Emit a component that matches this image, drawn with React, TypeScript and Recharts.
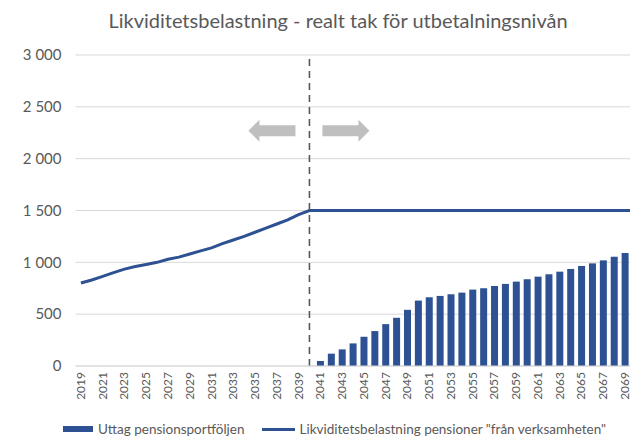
import React from "react";
import {
  ComposedChart,
  Bar,
  Line,
  XAxis,
  YAxis,
  CartesianGrid,
  ReferenceLine,
  ReferenceDot,
} from "recharts";

const years: string[] = [
  "2019", "2020", "2021", "2022", "2023", "2024", "2025", "2026", "2027", "2028",
  "2029", "2030", "2031", "2032", "2033", "2034", "2035", "2036", "2037", "2038",
  "2039", "2040", "2041", "2042", "2043", "2044", "2045", "2046", "2047", "2048",
  "2049", "2050", "2051", "2052", "2053", "2054", "2055", "2056", "2057", "2058",
  "2059", "2060", "2061", "2062", "2063", "2064", "2065", "2066", "2067", "2068",
  "2069", "2070",
];

// Likviditetsbelastning pensioner "från verksamheten"
const likviditet: number[] = [
  800, 830, 865, 900, 935, 960, 980, 1000, 1030, 1050,
  1080, 1110, 1140, 1180, 1215, 1250, 1290, 1330, 1370, 1410,
  1460, 1500, 1500, 1500, 1500, 1500, 1500, 1500, 1500, 1500,
  1500, 1500, 1500, 1500, 1500, 1500, 1500, 1500, 1500, 1500,
  1500, 1500, 1500, 1500, 1500, 1500, 1500, 1500, 1500, 1500,
  1500, 1500,
];

// Uttag pensionsportföljen
const uttag: (number | null)[] = [
  null, null, null, null, null, null, null, null, null, null,
  null, null, null, null, null, null, null, null, null, null,
  null, null, 48, 119, 160, 218, 282, 337, 404, 465,
  542, 631, 663, 676, 692, 708, 737, 750, 772, 792,
  814, 837, 862, 885, 910, 936, 965, 990, 1019, 1054,
  1090, null,
];

const yTicks: number[] = [0, 500, 1000, 1500, 2000, 2500, 3000];

const title = "Likviditetsbelastning - realt tak för utbetalningsnivån";
const barName = "Uttag pensionsportföljen";
const lineName = 'Likviditetsbelastning pensioner "från verksamheten"';
const splitYear = "2040";
const arrowLevel = 2270;

const data = years.map((y, i) => ({ year: y, uttag: uttag[i], likv: likviditet[i] }));

const BLUE = "#2d5193";
const TEXT = "#595959";
const GRID = "#d9d9d9";
const FONT = "Lato, 'Open Sans', sans-serif";

const fmt = (v: number) => (v >= 1000 ? `${Math.floor(v / 1000)} ${String(v % 1000).padStart(3, "0")}` : String(v));

const XTick = (props: any) => {
  const { x, y, payload } = props;
  return (
    <g transform={`translate(${x},${y})`}>
      <text
        x={0}
        y={0}
        dy={4}
        textAnchor="end"
        transform="rotate(-90)"
        fill={TEXT}
        fontSize={12}
        fontFamily={FONT}
      >
        {payload.value}
      </text>
    </g>
  );
};

const Arrows = (props: any) => {
  const { cx, cy } = props;
  if (cx == null || cy == null) return null;
  const sh = 5.5; // half shaft height
  const hh = 11; // half head height
  const hl = 11; // head length
  const left = `M ${cx - 14} ${cy - sh} L ${cx - 61 + hl} ${cy - sh} L ${cx - 61 + hl} ${cy - hh} L ${cx - 61} ${cy} L ${cx - 61 + hl} ${cy + hh} L ${cx - 61 + hl} ${cy + sh} L ${cx - 14} ${cy + sh} Z`;
  const right = `M ${cx + 13} ${cy - sh} L ${cx + 60 - hl} ${cy - sh} L ${cx + 60 - hl} ${cy - hh} L ${cx + 60} ${cy} L ${cx + 60 - hl} ${cy + hh} L ${cx + 60 - hl} ${cy + sh} L ${cx + 13} ${cy + sh} Z`;
  return (
    <g>
      <path d={left} fill="#bfbfbf" />
      <path d={right} fill="#bfbfbf" />
    </g>
  );
};

export default function App() {
  return (
    <div
      style={{
        position: "absolute",
        left: 0,
        top: 0,
        width: 630,
        height: 436,
        overflow: "hidden",
        background: "#ffffff",
        fontFamily: FONT,
      }}
    >
      <div
        style={{
          position: "absolute",
          left: 0,
          top: 8,
          width: 676,
          textAlign: "center",
          fontSize: 20,
          lineHeight: "24px",
          color: TEXT,
          fontFamily: FONT,
          whiteSpace: "nowrap",
        }}
      >
        {title}
      </div>
      <ComposedChart
        width={650}
        height={436}
        data={data}
        margin={{ top: 55, right: 8.7, left: 0, bottom: 20 }}
        barCategoryGap="19%"
      >
        <CartesianGrid vertical={false} stroke={GRID} strokeWidth={1} />
        <XAxis
          dataKey="year"
          interval={1}
          height={50}
          tickLine={false}
          tickSize={0}
          tickMargin={6}
          axisLine={{ stroke: GRID }}
          tick={<XTick />}
        />
        <YAxis
          width={75.5}
          domain={[0, 3000]}
          ticks={yTicks}
          tickFormatter={fmt}
          axisLine={false}
          tickLine={false}
          tickSize={0}
          tickMargin={14}
          tick={{ fill: TEXT, fontSize: 15, fontFamily: FONT }}
        />
        <Bar dataKey="uttag" name={barName} fill={BLUE} isAnimationActive={false} />
        <Line
          dataKey="likv"
          name={lineName}
          type="linear"
          stroke={BLUE}
          strokeWidth={3}
          dot={false}
          activeDot={false}
          isAnimationActive={false}
        />
        <ReferenceLine x={splitYear} stroke={TEXT} strokeWidth={1.6} strokeDasharray="7 5" />
        <ReferenceDot x={splitYear} y={arrowLevel} r={0} shape={<Arrows />} />
      </ComposedChart>
      <div
        style={{
          position: "absolute",
          top: 420,
          left: 63,
          display: "flex",
          alignItems: "center",
          fontSize: 13.5,
          lineHeight: "18px",
          color: TEXT,
          fontFamily: FONT,
          whiteSpace: "nowrap",
        }}
      >
        <span style={{ display: "inline-block", width: 30, height: 6, background: BLUE, marginRight: 5 }} />
        <span>{barName}</span>
        <span style={{ display: "inline-block", width: 33, height: 3, background: BLUE, marginLeft: 18, marginRight: 4 }} />
        <span>{lineName}</span>
      </div>
    </div>
  );
}
